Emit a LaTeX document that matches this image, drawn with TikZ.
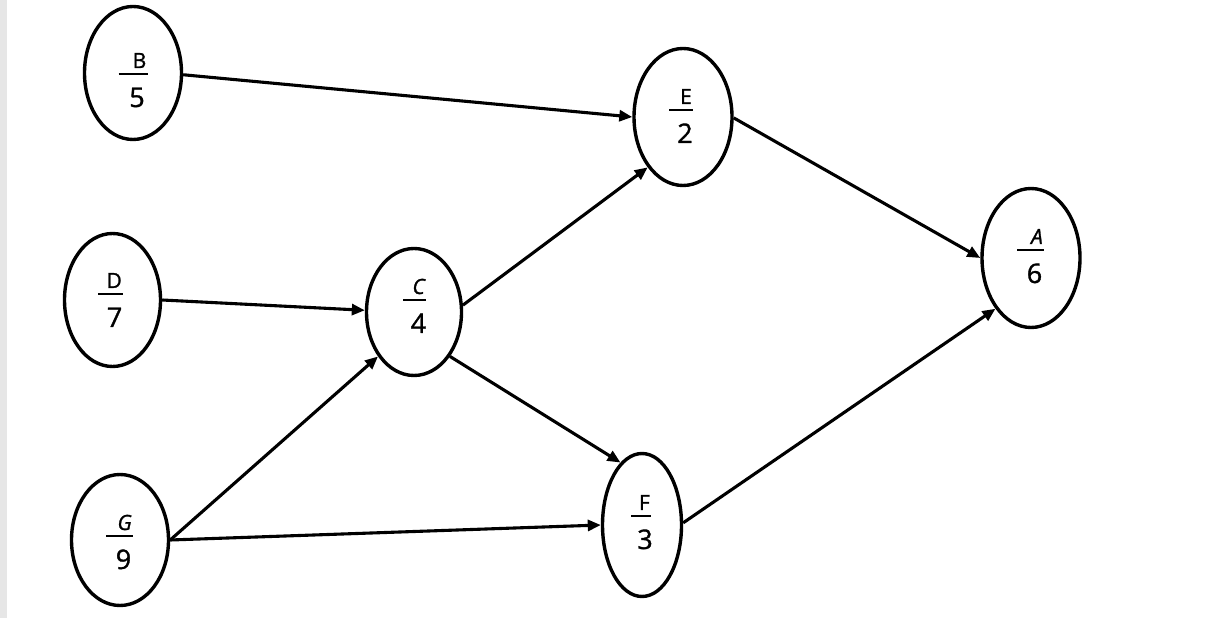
\documentclass[tikz,border=0pt]{standalone}
\usepackage{fontspec}
\setmainfont{Open Sans}
\newfontfamily\labfont{Open Sans}[FakeBold=1.2]
\usetikzlibrary{arrows.meta,shapes.geometric}
\definecolor{stripgrey}{HTML}{E6E6E6}
\tikzset{
  ellip/.style={draw=black, line width=3.4pt, ellipse, inner sep=0pt, fill=white},
  conn/.style={line width=3.1pt, -{Triangle[length=13pt,width=11pt]}},
  lettr/.style={inner sep=0pt, font=\labfont\fontsize{21}{21}\selectfont},
  digit/.style={inner sep=0pt, font=\labfont\fontsize{27}{27}\selectfont},
  barline/.style={line width=2.9pt}
}
% #1 name, #2 x, #3 y of bar, #4 half width of bar, #5 letter, #6 digit
\newcommand{\mklab}[6]{%
  \draw[barline] (#2-#4,#3) -- (#2+#4,#3);
  \node[lettr, anchor=base east] (#1l) at (#2+#4-1,#3+6) {#5};
  \node[digit, anchor=base] (#1d) at (#2+4,#3-33) {#6};
}
\begin{document}
\begin{tikzpicture}[x=1pt,y=1pt]
\useasboundingbox (0,0) rectangle (1206,618);
\fill[stripgrey] (0,0) rectangle (7,618);

\node[ellip, minimum width=97pt, minimum height=133pt] (B) at (133,545) {};
\node[ellip, minimum width=96pt, minimum height=133pt] (D) at (112.5,318) {};
\node[ellip, minimum width=97pt, minimum height=131pt] (G) at (120,78) {};
\node[ellip, minimum width=95pt, minimum height=127pt] (C) at (414,306) {};
\node[ellip, minimum width=98pt, minimum height=137pt] (E) at (683,501) {};
\node[ellip, minimum width=79pt, minimum height=143pt] (F) at (642,93) {};
\node[ellip, minimum width=98pt, minimum height=139pt] (A) at (1031,360) {};

\mklab{B}{133}{544}{14.5}{B}{5}
\mklab{D}{110.5}{324}{12.5}{D}{7}
\mklab{G}{119.5}{82}{13.5}{\itshape G}{9}
\mklab{C}{414.5}{318}{11.5}{\itshape C}{4}
\mklab{E}{681}{508}{12}{E}{2}
\mklab{A}{1030.5}{368}{13.5}{\itshape A}{6}
\mklab{F}{641}{102}{10}{F}{3}

\draw[conn] (B.-2) -- (E.west);
\draw[conn] (E.-1) -- (A.west);
\draw[conn] (D.east) -- (C.178);
\draw[conn] (G.east) -- (C.231);
\draw[conn] (G.east) -- (F.west);
\draw[conn] (C.8) -- (E.235);
\draw[conn] (C.-51) -- (F.109);
\draw[conn] (F.3) -- (A.235);
\end{tikzpicture}
\end{document}
